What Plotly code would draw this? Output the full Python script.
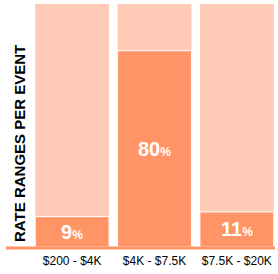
import plotly.graph_objects as go

categories = ["$200 - $4K", "$4K - $7.5K", "$7.5K - $20K"]
values = [9, 80, 11]
total = [100, 100, 100]
labels = ["9", "80", "11"]

BASE = -4
LIGHT = "#FFCBB6"
DARK = "#FF9466"

fig = go.Figure()
fig.add_trace(go.Bar(
    x=categories, y=[t - BASE for t in total], base=BASE,
    marker=dict(color=LIGHT, line=dict(width=0)),
    hoverinfo="skip", showlegend=False,
))
fig.add_trace(go.Bar(
    x=categories, y=[v - BASE for v in values], base=BASE,
    marker=dict(color=DARK, line=dict(color="white", width=1)),
    showlegend=False, hoverinfo="y",
))

annotations = [dict(text="<b>RATE RANGES PER EVENT</b>", textangle=-90,
                    xref="paper", yref="paper",
                    x=(19 - 31) / 247, y=(247 - 144) / 243,
                    xanchor="center", yanchor="middle", showarrow=False,
                    font=dict(family="Liberation Sans, Arial", size=15, color="black"))]
for c, v, l in zip(categories, values, labels):
    annotations.append(dict(
        x=c, y=(BASE + v) / 2, xref="x", yref="y", showarrow=False,
        text=f"<b>{l}</b><b><span style='font-size:12px'>%</span></b>",
        font=dict(family="Liberation Sans, Arial", size=20, color="white"),
        xanchor="center", yanchor="middle"))

fig.update_layout(
    width=278, height=274,
    margin=dict(l=31, r=0, t=4, b=27),
    barmode="overlay", bargap=0.103,
    plot_bgcolor="white", paper_bgcolor="white",
    xaxis=dict(showgrid=False, zeroline=False, showline=False, ticks="",
               ticklabelstandoff=5,
               tickfont=dict(family="Liberation Sans, Arial", size=12, color="black")),
    yaxis=dict(range=[BASE, 100], visible=False),
    shapes=[dict(type="line", xref="paper", yref="paper",
                 x0=(6 - 31) / 247, x1=(275 - 31) / 247, y0=-0.004, y1=-0.004,
                 line=dict(color=DARK, width=3))],
    annotations=annotations,
)
fig.write_html("out.html")
